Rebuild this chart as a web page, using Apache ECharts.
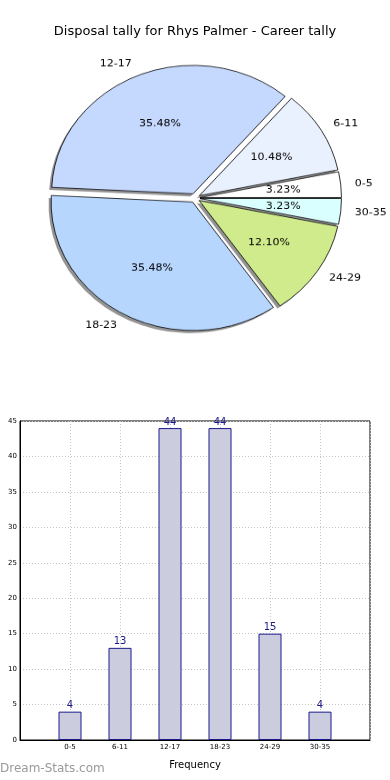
<!DOCTYPE html>
<html>
<head>
<meta charset="utf-8">
<script src="https://cdn.jsdelivr.net/npm/echarts@6/dist/echarts.min.js"></script>
<style>
html,body{margin:0;padding:0;background:#fff;}
#main{position:absolute;left:0;top:0;width:390px;height:780px;}
#pie{position:absolute;left:0;top:3px;width:390px;height:390px;transform:scaleY(0.908);transform-origin:50% 50%;}
</style>
</head>
<body>
<div id="main"></div>
<div id="pie"></div>
<script>
const titleText = 'Disposal tally for Rhys Palmer - Career tally';
const categories = ['0-5', '6-11', '12-17', '18-23', '24-29', '30-35'];
const tally = [4, 13, 44, 44, 15, 4];
const yTicks = [0, 5, 10, 15, 20, 25, 30, 35, 40, 45];
const pieColors = ['#ffffff', '#eaf1fe', '#c5d9fe', '#b7d6fe', '#d0eb8c', '#d9ffff'];
const FONT = 'DejaVu Sans';

const main = echarts.init(document.getElementById('main'), null, {renderer: 'canvas'});
main.setOption({
  animation: false,
  backgroundColor: '#fff',
  title: {
    text: titleText, left: 'center', top: 20,
    textStyle: {fontFamily: FONT, fontSize: 13, fontWeight: 'normal', color: '#000'}
  },
  graphic: [{
    type: 'text', left: 0, top: 763,
    style: {text: 'Dream-Stats.com', fontFamily: FONT, fontSize: 12, fontWeight: 'normal', fill: '#999'}
  }],
  grid: {left: 20, right: 20, top: 421, bottom: 40, show: true, borderColor: '#000', borderWidth: 1, backgroundColor: 'transparent'},
  xAxis: {
    type: 'value', min: 0, max: categories.length + 1, interval: 1,
    name: 'Frequency', nameLocation: 'middle', nameGap: 20,
    nameTextStyle: {fontFamily: FONT, fontSize: 10, color: '#000'},
    axisLine: {show: true, lineStyle: {color: '#000', width: 1}},
    axisTick: {show: false},
    axisLabel: {
      fontFamily: FONT, fontSize: 7, color: '#000', margin: 4,
      formatter: v => categories[v - 1] || ''
    },
    splitLine: {show: true, lineStyle: {color: '#c4c4c4', type: [1, 2], width: 1}}
  },
  yAxis: {
    type: 'value', min: yTicks[0], max: yTicks[yTicks.length - 1], interval: 5,
    axisLine: {show: true, lineStyle: {color: '#000', width: 1}},
    axisTick: {show: false},
    axisLabel: {fontFamily: FONT, fontSize: 7, color: '#000', margin: 3},
    splitLine: {show: true, lineStyle: {color: '#c4c4c4', type: [1, 2], width: 1}}
  },
  series: [{
    type: 'bar',
    data: categories.map((c, i) => [i + 1, tally[i]]),
    barWidth: 23,
    itemStyle: {color: '#ccccdf', borderColor: '#1a1a8c', borderWidth: 1},
    label: {show: true, position: 'top', distance: 1, fontFamily: FONT, fontSize: 10, color: '#1a1a8c', formatter: p => p.value[1]},
    emphasis: {disabled: true}
  }]
});

const pie = echarts.init(document.getElementById('pie'), null, {renderer: 'canvas'});
const R = 141.5;
const common = {
  type: 'pie',
  startAngle: 0,
  clockwise: false,
  selectedMode: 'multiple',
  selectedOffset: 5,
  avoidLabelOverlap: false,
  silent: true,
  emphasis: {disabled: true}
};
pie.setOption({
  animation: false,
  series: [Object.assign({}, common, {
    // shadow layer
    center: [195 - 2.5, 195 + 2.8],
    radius: [0, R],
    data: categories.map((c, i) => ({name: c, value: tally[i], selected: true})),
    itemStyle: {color: 'rgba(0,0,0,0.42)', borderWidth: 0},
    label: {show: false},
    labelLine: {show: false}
  }), Object.assign({}, common, {
    center: ['50%', '50%'],
    radius: [0, R],
    data: categories.map((c, i) => ({name: c, value: tally[i], selected: true, itemStyle: {color: pieColors[i]}})),
    itemStyle: {borderColor: '#000', borderWidth: 0.8},
    label: {show: true, position: 'outside', fontFamily: FONT, fontSize: 11, color: '#000', distanceToLabelLine: 0},
    labelLine: {show: false, length: 14, length2: 0}
  }), Object.assign({}, common, {
    center: ['50%', '50%'],
    radius: [0.14 * R, R],
    data: categories.map((c, i) => ({name: c, value: tally[i], selected: true})),
    itemStyle: {color: 'rgba(0,0,0,0)', borderWidth: 0},
    label: {show: true, position: 'inside', fontFamily: FONT, fontSize: 11, color: '#000',
      formatter: p => p.percent.toFixed(2) + '%'},
    labelLine: {show: false}
  })]
});
</script>
</body>
</html>
